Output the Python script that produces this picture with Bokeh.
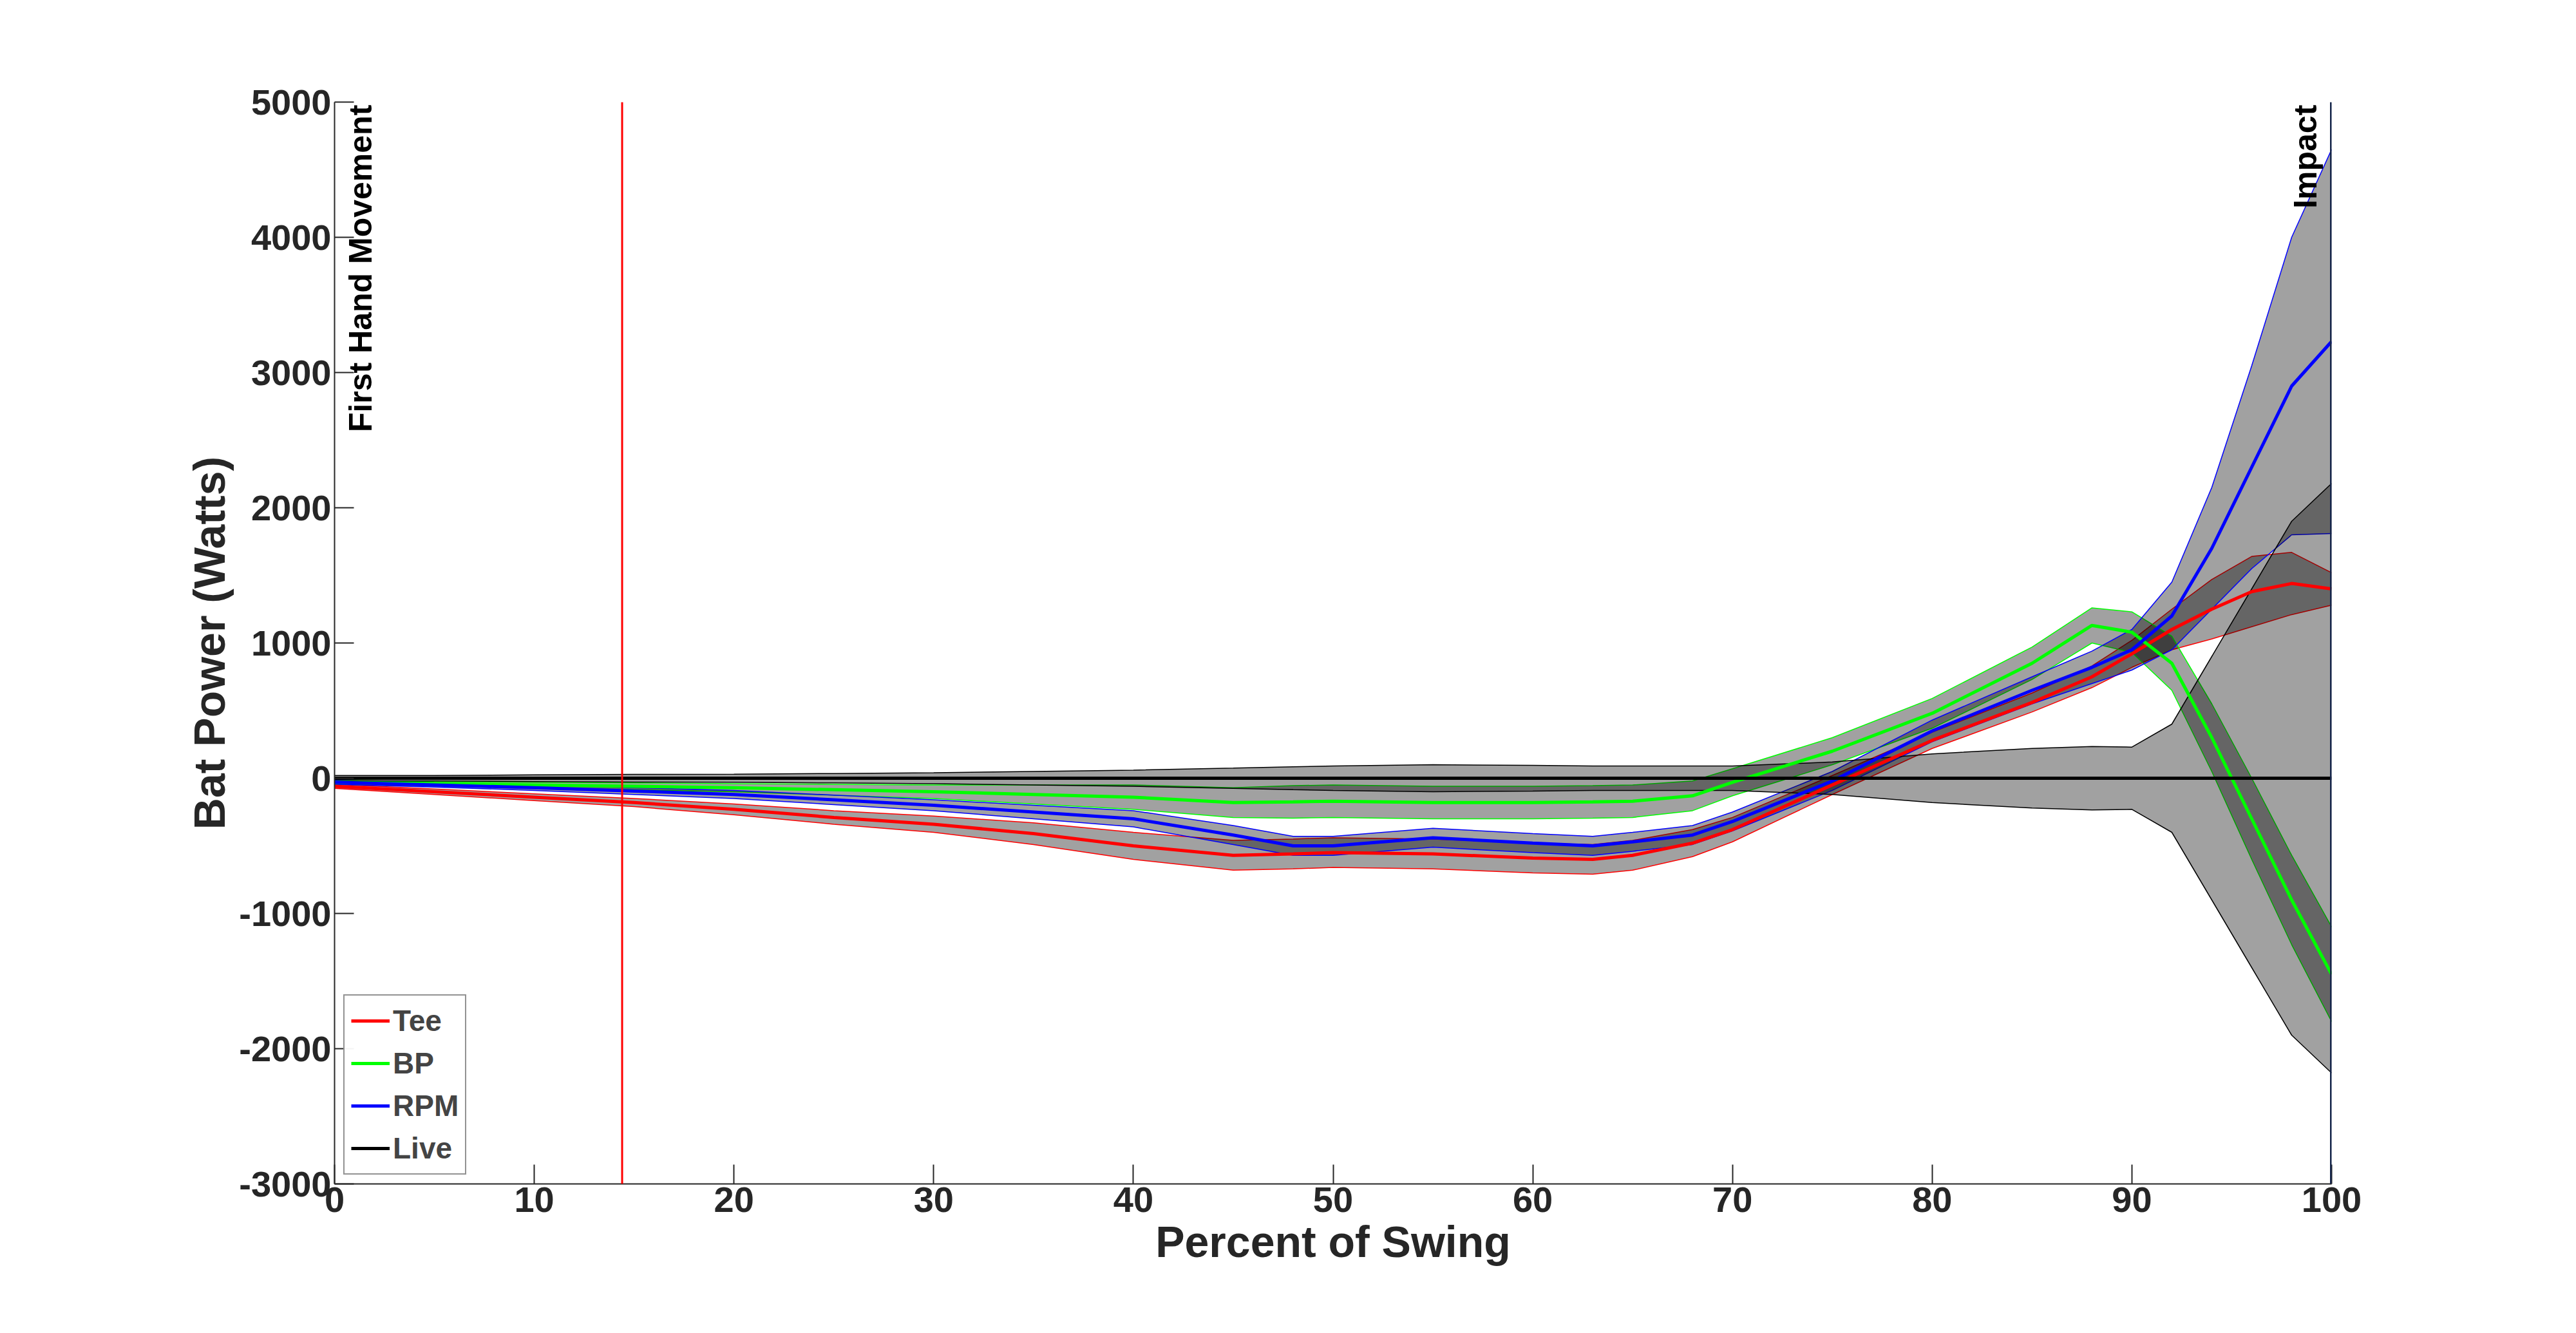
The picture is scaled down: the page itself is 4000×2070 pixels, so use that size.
import math
from bokeh.plotting import figure
from bokeh.models import ColumnDataSource, Legend, LegendItem, Span, FixedTicker, CustomJSTickFormatter
from bokeh.core.properties import value
from bokeh.embed import file_html
from bokeh.resources import INLINE

# percent of swing sample points
pct = [0, 5, 10, 15, 20, 25, 30, 35, 40, 45, 48, 50, 55, 60, 63, 65, 68, 70, 75, 80,
       85, 88, 90, 92, 94, 96, 98, 100]

tee_mean = [-60, -100, -140, -180, -230, -290, -340, -410, -500, -570, -560, -550, -560, -590, -600, -570,
            -480, -380, -50, 280, 560, 750, 920, 1100, 1250, 1380, 1440, 1400]
tee_sd = [15, 20, 25, 30, 40, 50, 60, 80, 100, 110, 110, 110, 110, 110, 110, 110,
          100, 90, 70, 60, 70, 80, 100, 150, 220, 260, 230, 120]

bp_mean = [-30, -40, -50, -60, -70, -85, -100, -120, -140, -180, -175, -170, -180, -180, -175, -170,
           -130, -30, 200, 480, 850, 1130, 1080, 850, 300, -300, -900, -1450]
bp_sd = [15, 15, 20, 25, 30, 40, 50, 70, 90, 110, 120, 120, 120, 120, 120, 120,
         110, 100, 100, 110, 120, 130, 150, 200, 250, 300, 330, 350]

rpm_mean = [-30, -50, -70, -95, -120, -160, -200, -250, -300, -420, -500, -500, -440, -480, -500, -470,
            -420, -320, -20, 350, 650, 820, 950, 1200, 1700, 2300, 2900, 3230]
rpm_sd = [15, 15, 20, 25, 30, 35, 40, 50, 60, 70, 70, 70, 70, 70, 70, 70,
          70, 70, 70, 80, 100, 120, 150, 250, 450, 750, 1100, 1420]

live_mean = [0] * len(pct)
live_sd = [20, 20, 25, 28, 30, 35, 40, 50, 60, 75, 85, 90, 100, 95, 90, 90,
           90, 90, 120, 180, 220, 235, 230, 400, 900, 1400, 1900, 2180]

series = [("Tee", tee_mean, tee_sd, "#ff0000"),
          ("BP", bp_mean, bp_sd, "#00ff00"),
          ("RPM", rpm_mean, rpm_sd, "#0000ff"),
          ("Live", live_mean, live_sd, "#000000")]

p = figure(width=3980, height=2050, x_range=(0, 100), y_range=(-3000, 5000),
           output_backend="svg", toolbar_location=None, tools="",
           min_border_left=519, min_border_right=360, min_border_top=158, min_border_bottom=212)
p.outline_line_color = None
p.xgrid.grid_line_color = None
p.ygrid.grid_line_color = None

for name, m, sd, col in series:
    lo = [a - b for a, b in zip(m, sd)]
    hi = [a + b for a, b in zip(m, sd)]
    src = ColumnDataSource(dict(x=pct, m=m, lo=lo, hi=hi))
    p.varea(x="x", y1="lo", y2="hi", source=src, fill_color="black", fill_alpha=0.37)
    p.line(x="x", y="lo", source=src, line_color=col, line_width=1.5)
    p.line(x="x", y="hi", source=src, line_color=col, line_width=1.5)

mean_lines = []
for name, m, sd, col in series:
    r = p.line(x=pct, y=m, line_color=col, line_width=5)
    mean_lines.append((name, r))

p.add_layout(Span(location=14.4, dimension="height", line_color="#ff0000", line_width=3))
p.add_layout(Span(location=100, dimension="height", line_color="#15254a", line_width=5))

p.text(x=[0.4], y=[4980], text=["First Hand Movement"], angle=math.pi / 2,
       text_align="right", text_baseline="top", text_font=value("Liberation Sans"),
       text_font_style="bold", text_font_size="50px", text_color="black")
p.text(x=[99.6], y=[4980], text=["Impact"], angle=math.pi / 2,
       text_align="right", text_baseline="bottom", text_font=value("Liberation Sans"),
       text_font_style="bold", text_font_size="50px", text_color="black")

legend = Legend(items=[LegendItem(label=n, renderers=[r]) for n, r in mean_lines],
                location="bottom_left")
legend.label_text_font = "Liberation Sans"
legend.label_text_font_style = "bold"
legend.label_text_font_size = "46px"
legend.border_line_color = "#262626"
legend.border_line_width = 2
legend.glyph_width = 60
legend.spacing = 8
legend.padding = 10
legend.margin = 14
legend.label_height = 58
p.add_layout(legend)

p.xaxis.ticker = FixedTicker(ticks=list(range(0, 101, 10)))
p.yaxis.ticker = FixedTicker(ticks=list(range(-3000, 5001, 1000)))
p.yaxis.formatter = CustomJSTickFormatter(code="return tick.toFixed(0);")
for ax in (p.xaxis, p.yaxis):
    ax.major_label_text_font = "Liberation Sans"
    ax.major_label_text_font_style = "bold"
    ax.major_label_text_font_size = "56px"
    ax.major_label_text_color = "#262626"
    ax.axis_label_text_font = "Liberation Sans"
    ax.axis_label_text_font_style = "bold"
    ax.axis_label_text_font_size = "68px"
    ax.axis_label_text_color = "#262626"
    ax.axis_line_color = "#262626"
    ax.axis_line_width = 2
    ax.major_tick_in = 30
    ax.major_tick_out = 0
    ax.major_tick_line_color = "#262626"
    ax.major_tick_line_width = 2
    ax.minor_tick_line_color = None
p.xaxis.axis_label = "Percent of Swing"
p.yaxis.axis_label = "Bat Power (Watts)"
p.yaxis.major_label_orientation = "horizontal"

open("out.html", "w").write(file_html(p, INLINE))
